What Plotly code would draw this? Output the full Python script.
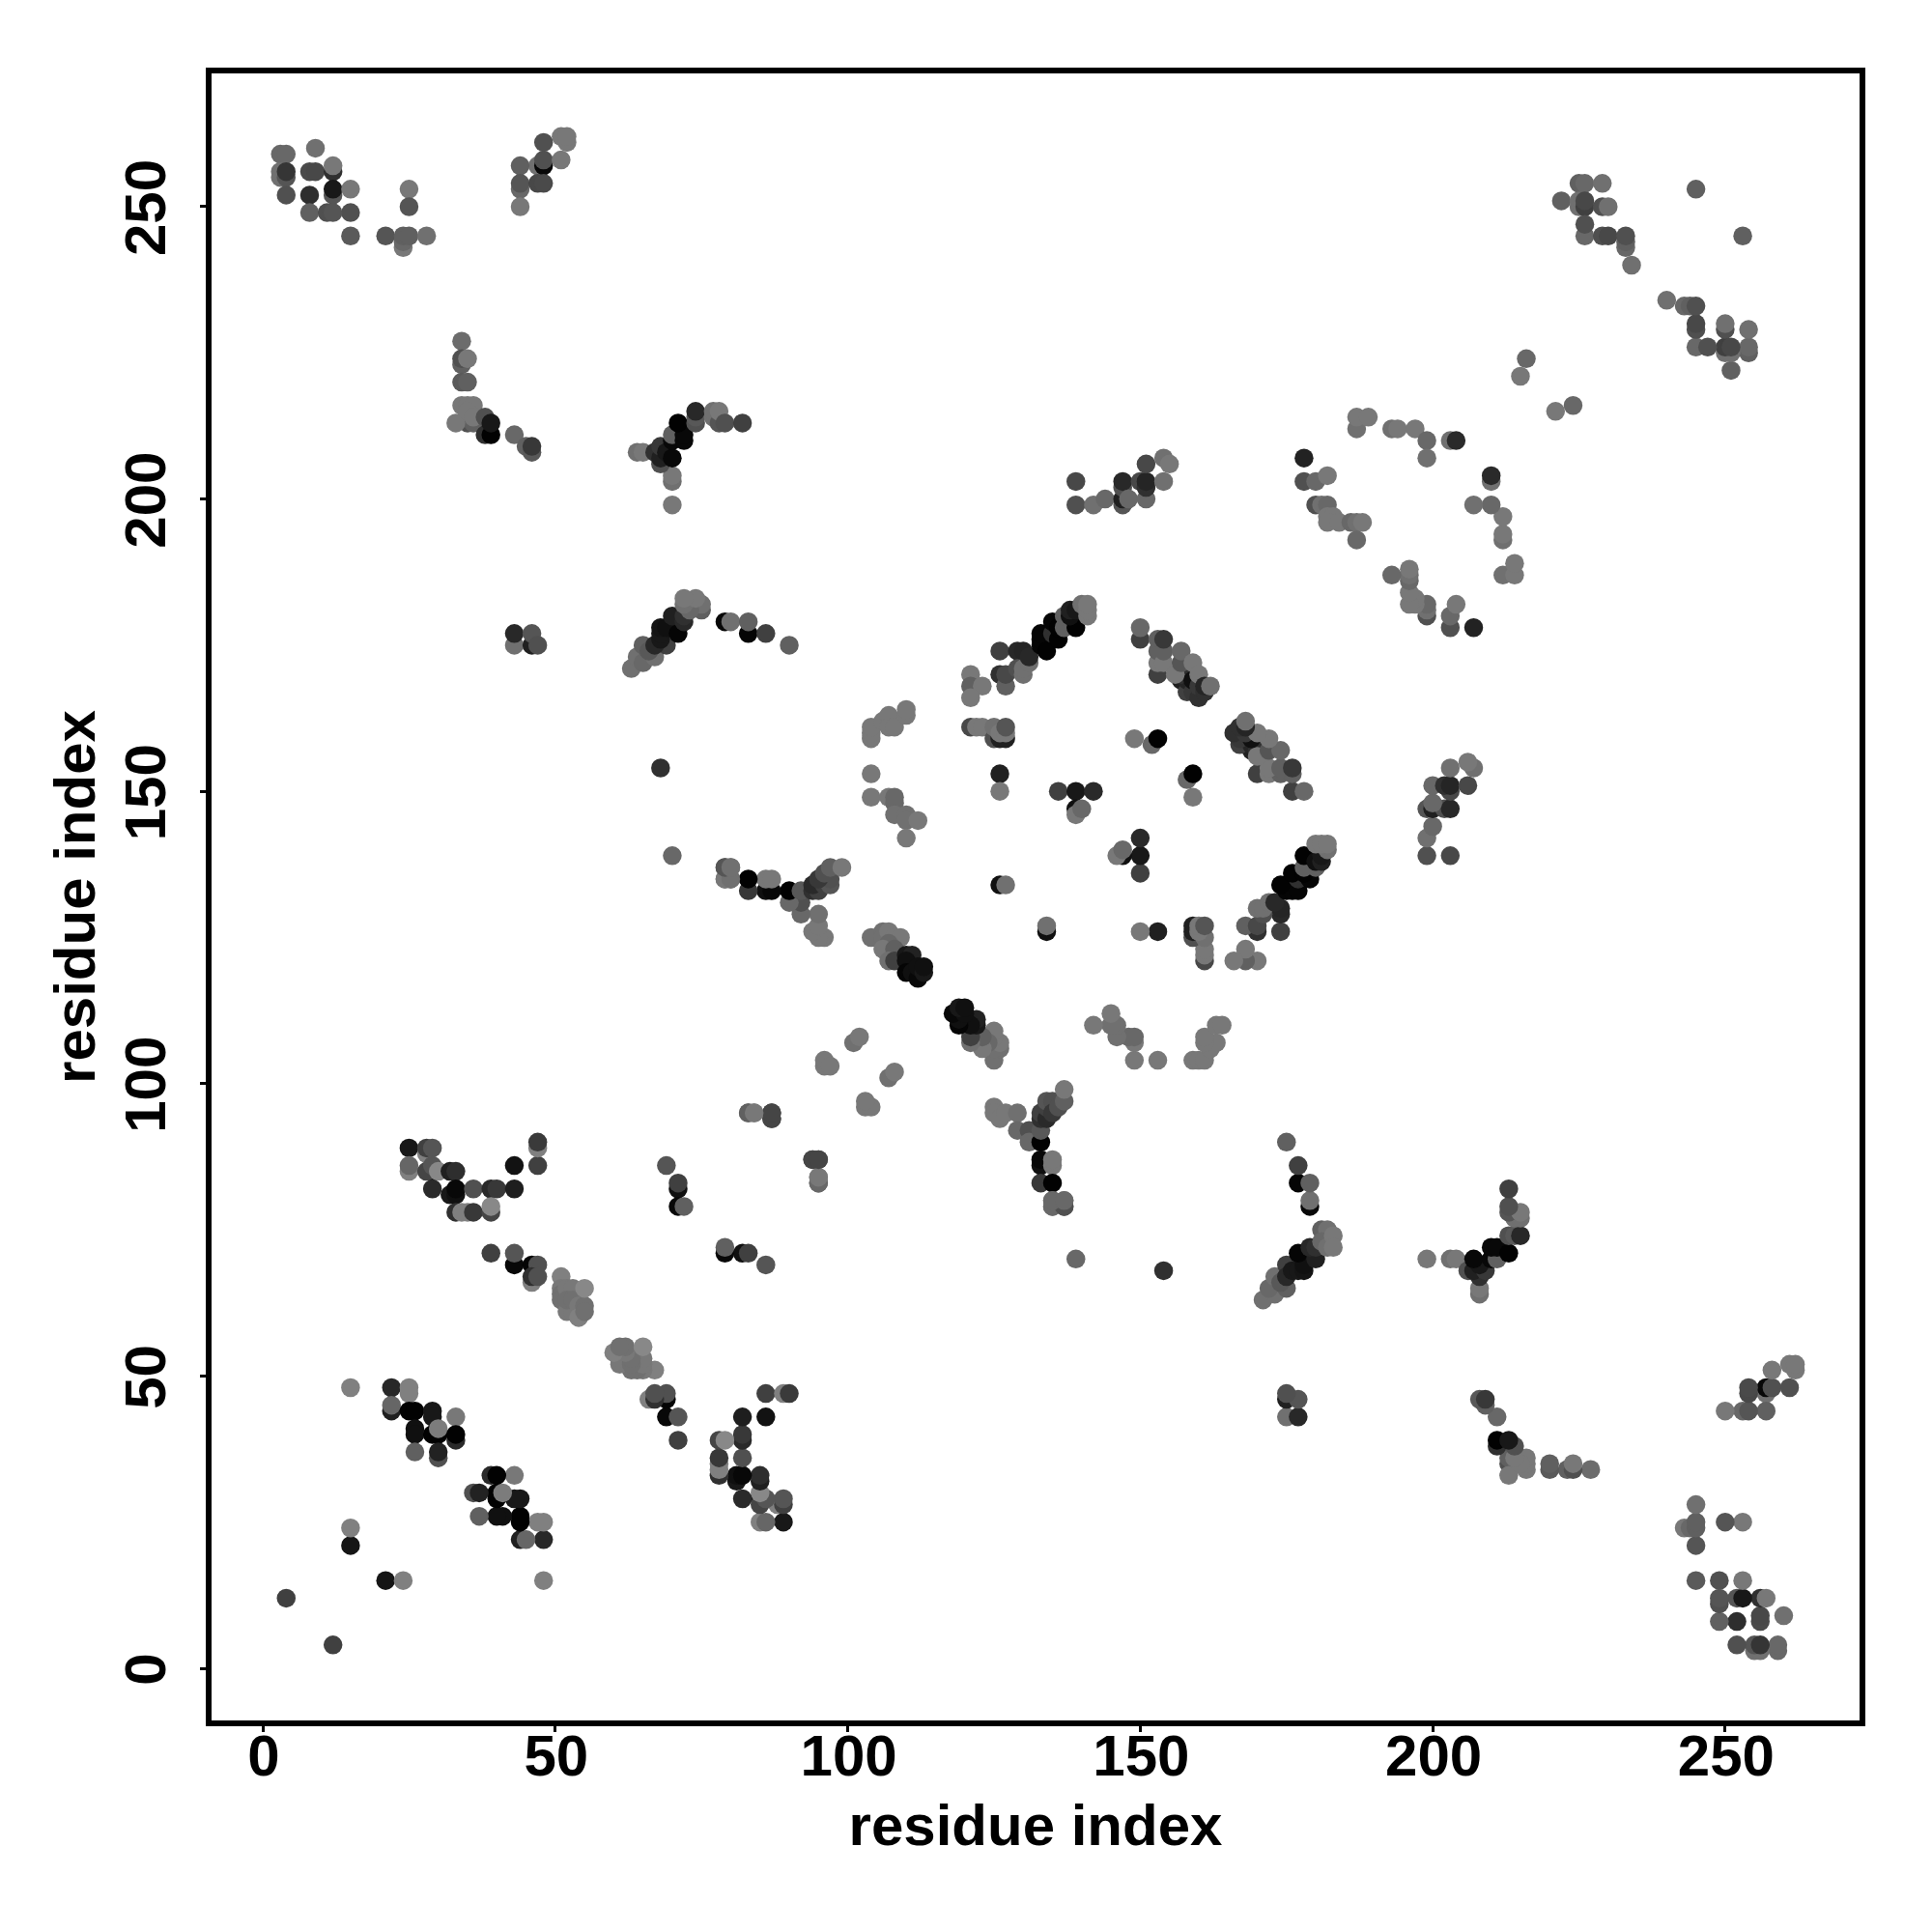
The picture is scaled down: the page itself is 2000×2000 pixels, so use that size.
import plotly.graph_objects as go

# Contacts as (residue a, residue b, shade value 0=black ... 255=white); the map is symmetric.
tick_values = [0, 50, 100, 150, 200, 250]
axis_label = "residue index"

near_n = [(4,12,0x40),(15,21,0x15),(15,24,0x80),(15,48,0x80)]
c_22_48 = [(22,48,0x28),(25,48,0x80),(25,47,0x80),(22,44,0x20),(22,45,0x66),(25,44,0x02),(26,44,0x02),
           (29,44,0x18),(29,43,0x18),(33,43,0x78),(26,41,0x10),(26,40,0x10),(29,40,0x02),(30,40,0x02),
           (30,41,0x7c),(33,39,0x2a),(33,40,0x02),(26,37,0x60),(30,36,0x50),(30,37,0x22)]
c_25_90 = [(25,89,0x18),(28,88,0x80),(28,89,0x40),(29,89,0x55),(25,85,0x80),(25,86,0x66),(29,85,0x10),
           (28,85,0x45),(29,86,0x55),(30,85,0x88),(32,85,0x20),(33,85,0x2e),(29,82,0x2a),(32,81,0x18),
           (33,81,0x10),(33,82,0x08),(36,82,0x50),(39,82,0x2a),(40,82,0x38),(43,82,0x1e),(43,86,0x12),
           (47,86,0x40),(47,89,0x80),(47,90,0x3a),(33,78,0x30),(34,78,0x80),(35,78,0x80),(36,78,0x38),
           (39,78,0x45),(39,79,0x88),(39,71,0x40),(43,69,0x08),(43,71,0x55),(46,69,0x05),(47,69,0x50),
           (46,66,0x80),(46,67,0x30),(47,67,0x50)]
c_51_67 = [(51,67,0x80),(51,65,0x78),(51,64,0x70),(51,63,0x70),(52,65,0x78),(53,65,0x78),(52,61,0x78),
           (53,61,0x78),(52,63,0x70),(53,63,0x70),(54,62,0x78),(54,60,0x80),(55,62,0x70),(55,61,0x70),(55,65,0x88)]
c_69_86 = [(69,86,0x55),(71,82,0x10),(71,83,0x40),(71,79,0x08),(72,79,0x60)]
c_43_47 = [(43,175,0x70),(43,177,0x28),(46,175,0x20),(46,177,0x55),(47,175,0x50)]
c_63_90 = [(63,171,0x70),(64,173,0x70),(65,172,0x68),(65,175,0x60),(67,173,0x70),(66,174,0x58),(69,175,0x40),
           (67,175,0x28),(68,176,0x18),(68,177,0x18),(68,178,0x14),(69,178,0x10),(71,177,0x05),(70,180,0x20),
           (72,179,0x28),(72,180,0x30),(75,181,0x60),(75,182,0x70),(73,181,0x68),(72,182,0x70),(74,183,0x78),
           (72,183,0x78),(79,179,0x08),(80,179,0x70),(83,177,0x05),(83,179,0x60),(86,177,0x40),(90,175,0x60)]
c_3_28 = [(3,259,0x68),(4,259,0x68),(9,260,0x70),(3,255,0x70),(3,256,0x70),(4,255,0x55),(4,256,0x35),
          (4,252,0x50),(8,256,0x4a),(9,256,0x48),(12,256,0x30),(12,257,0x78),(12,252,0x55),(12,253,0x18),
          (8,252,0x2e),(15,253,0x78),(15,249,0x50),(8,249,0x60),(11,249,0x50),(12,249,0x55),(15,245,0x5a),
          (21,245,0x55),(24,243,0x78),(24,244,0x68),(24,245,0x60),(25,245,0x60),(28,245,0x70),(25,253,0x78),
          (25,250,0x55)]
c_44_52 = [(47,257,0x70),(44,257,0x60),(44,253,0x68),(44,254,0x55),(44,250,0x78),(48,257,0x08),(48,258,0x50),
           (47,254,0x48),(48,254,0x4a),(48,261,0x50),(51,258,0x78),(51,262,0x78),(52,261,0x78),(52,262,0x78)]
c_33_46 = [(34,227,0x6c),(34,223,0x60),(34,224,0x50),(35,224,0x78),(34,220,0x5a),(35,220,0x60),(35,213,0x50),
           (36,213,0x60),(33,213,0x78),(34,216,0x78),(35,216,0x78),(36,216,0x78),(35,215,0x78),(36,214,0x78),
           (38,211,0x30),(38,214,0x50),(39,211,0x02),(39,213,0x18),(43,211,0x68),(45,209,0x60),(46,208,0x58),(46,209,0x38)]
c_64_82 = [(70,199,0x78),(70,203,0x70),(70,204,0x78),(64,208,0x70),(65,208,0x78),(68,206,0x50),(67,208,0x30),
           (68,207,0x20),(68,209,0x38),(69,208,0x18),(70,207,0x08),(70,210,0x08),(70,211,0x60),(72,210,0x08),
           (72,211,0x08),(71,213,0x02),(74,213,0x50),(74,214,0x58),(74,215,0x28),(77,214,0x70),(77,215,0x70),
           (78,213,0x55),(78,215,0x78),(79,213,0x50),(82,213,0x40)]
c_single = [(68,154,0x30),(70,139,0x68)]
c_79_137 = [(79,135,0x68),(79,137,0x50),(80,135,0x68),(80,137,0x68),(125,96,0x78),(125,95,0x78),(126,94,0x78),
            (127,95,0x78),(129,95,0x70),(129,92,0x68),(131,92,0x50),(131,90,0x68),(133,90,0x02),(133,92,0x58),
            (133,94,0x30),(133,95,0x40),(134,94,0x2a),(134,96,0x40),(134,97,0x55),(135,97,0x50),(135,95,0x38),
            (136,96,0x50),(137,97,0x60),(137,99,0x78),(133,86,0x10),(133,87,0x08),(135,86,0x78),(135,87,0x78),
            (133,83,0x38),(135,83,0x02),(135,79,0x78),(135,80,0x70),(137,79,0x55),(137,80,0x70)]
c_83_95 = [(83,95,0x68),(84,95,0x78),(87,94,0x45),(87,95,0x45),(94,87,0x45),(95,87,0x45),(95,83,0x60),(95,84,0x78)]
c_near_diag = [(96,103,0x78),(96,104,0x78),(97,103,0x78),(101,107,0x70),(102,108,0x78)]
c_104_113 = [(104,125,0x70),(106,126,0x70),(106,125,0x70),(107,126,0x78),(108,125,0x78),(109,125,0x78),
             (107,124,0x68),(106,123,0x78),(108,123,0x60),(107,121,0x70),(108,121,0x40),(110,122,0x18),
             (111,122,0x22),(110,121,0x10),(110,119,0x05),(111,119,0x10),(112,118,0x08),(112,120,0x10),
             (113,119,0x18),(113,120,0x10)]
c_104_164 = [(104,159,0x78),(104,160,0x78),(104,161,0x78),(106,162,0x78),(107,163,0x78),(107,161,0x78),
             (108,161,0x78),(110,163,0x78),(110,164,0x78),(104,153,0x78),(104,149,0x78),(107,149,0x78),
             (108,148,0x68),(108,149,0x68),(108,146,0x70),(110,146,0x70),(110,145,0x70),(112,145,0x78),(110,142,0x78)]
c_121_127 = [(121,161,0x48),(122,161,0x78),(123,161,0x78),(125,159,0x50),(126,159,0x20),(127,159,0x20),
             (125,161,0x70),(126,160,0x78),(127,160,0x78),(127,161,0x55),(121,170,0x78),(121,168,0x60),
             (123,168,0x78),(121,166,0x78),(126,153,0x20),(126,150,0x78),(126,134,0x10),(127,134,0x70)]
c_square_top = [(126,174,0x40),(126,170,0x30),(127,168,0x60),(127,170,0x48),(129,174,0x28),(130,174,0x25),
                (129,171,0x50),(130,170,0x70),(130,171,0x70),(131,172,0x70),(131,173,0x28),(133,175,0x05),
                (133,176,0x05),(133,177,0x05),(134,174,0x02),(135,177,0x30),(135,179,0x05),(136,176,0x02),
                (136,178,0x02),(137,178,0x60),(139,178,0x02),(137,180,0x60),(138,180,0x10),(138,181,0x20),
                (139,181,0x18),(141,180,0x78),(140,182,0x70),(141,181,0x78),(141,182,0x78)]
c_136_153 = [(136,150,0x40),(139,150,0x18),(142,150,0x2a),(139,147,0x10),(139,146,0x78),(140,147,0x68),
             (149,159,0x78),(152,158,0x68),(153,159,0x02)]
c_139_155 = [(139,203,0x48),(139,199,0x50),(142,199,0x70),(144,200,0x68),(147,199,0x55),(147,200,0x20),
             (147,202,0x50),(147,203,0x28),(148,200,0x68),(150,203,0x48),(151,200,0x68),(151,202,0x30),
             (151,203,0x25),(151,206,0x48),(154,203,0x70),(154,207,0x70),(155,206,0x78)]
c_150_162 = [(150,176,0x40),(150,178,0x68),(153,170,0x40),(153,172,0x78),(153,174,0x60),(153,176,0x60),
             (154,172,0x78),(154,174,0x60),(154,176,0x38),(157,169,0x20),(158,167,0x40),(158,169,0x25),
             (158,170,0x10),(157,170,0x30),(156,170,0x78),(157,172,0x55),(157,174,0x68),(159,167,0x38),
             (159,169,0x10),(159,172,0x78),(160,166,0x30),(160,168,0x38),(160,170,0x78),(161,167,0x30),
             (161,168,0x25),(162,168,0x70)]
c_178_188 = [(178,207,0x22),(178,203,0x50),(180,203,0x68),(182,204,0x78),(180,199,0x50),(181,199,0x70),
             (182,199,0x68),(182,197,0x78),(183,197,0x78),(182,196,0x78),(184,196,0x78),(186,196,0x68),
             (187,196,0x70),(188,196,0x78),(187,193,0x68)]
c_187_214 = [(187,212,0x70),(187,214,0x78),(189,214,0x78),(193,212,0x70),(194,212,0x78),(197,212,0x78),
             (199,210,0x68),(199,207,0x70),(203,210,0x70),(204,210,0x2a),(215,221,0x78),(216,224,0x68)]
c_222_254 = [(225,254,0x60),(226,254,0x68),(229,254,0x70),(222,251,0x60),(225,250,0x70),(225,251,0x70),
             (226,250,0x40),(226,251,0x48),(229,250,0x50),(230,250,0x70),(226,245,0x68),(226,247,0x50),
             (229,245,0x50),(230,245,0x48),(233,243,0x68),(233,244,0x60),(233,245,0x50),(234,240,0x70),(245,253,0x60)]

groups = [near_n, c_22_48, c_25_90, c_51_67, c_69_86, c_43_47, c_63_90, c_3_28, c_44_52, c_33_46, c_64_82,
          c_single, c_79_137, c_83_95, c_near_diag, c_104_113, c_104_164, c_121_127, c_square_top, c_136_153,
          c_139_155, c_150_162, c_178_188, c_187_214, c_222_254]

xs, ys, cs = [], [], []
for group in groups:
    for a, b, s in group:
        xs.append(a); ys.append(b); cs.append(s)
for group in groups:
    for a, b, s in group:
        xs.append(b); ys.append(a); cs.append(s)

fig = go.Figure(go.Scatter(
    x=xs, y=ys, mode="markers", cliponaxis=False,
    marker=dict(size=19.5, color=cs, cmin=0, cmax=255,
                colorscale=[[0, "rgb(0,0,0)"], [1, "rgb(255,255,255)"]],
                showscale=False, line=dict(width=0)),
))

font = dict(family="Liberation Sans", size=60, color="black", weight="bold")
axis = dict(
    tickmode="array", tickvals=tick_values, ticktext=[str(v) for v in tick_values],
    showgrid=False, zeroline=False, showline=True, mirror=True, linewidth=5.5, linecolor="black",
    ticks="outside", ticklen=6, tickwidth=3, tickcolor="black", tickfont=font,
)
fig.update_xaxes(axis, range=[-8.76, 272.97], ticklabelstandoff=-27, ticklabelshift=1,
                 title=dict(text=axis_label, font=font, standoff=20))
fig.update_yaxes(axis, range=[-8.92, 272.8], tickangle=-90, ticklabelstandoff=12, ticklabelshift=10,
                 title=dict(text=axis_label, font=font, standoff=1))
fig.update_layout(
    width=2000, height=2000, autosize=False, showlegend=False,
    paper_bgcolor="white", plot_bgcolor="white",
    margin=dict(l=211, r=83, t=68, b=227, pad=0),
)
fig.write_html("out.html")
